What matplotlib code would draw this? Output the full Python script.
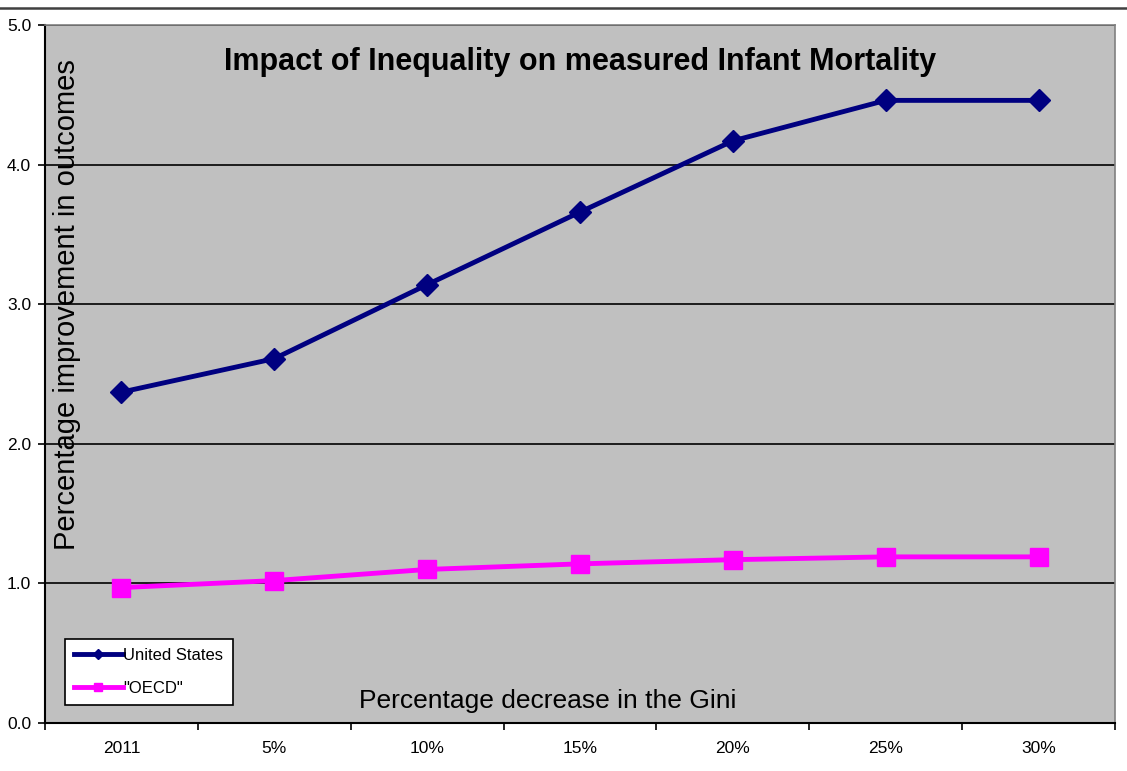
import matplotlib
matplotlib.use("Agg")
import matplotlib.pyplot as plt
from matplotlib.lines import Line2D

plt.rcParams['font.family'] = ['Liberation Sans', 'DejaVu Sans']

categories = ['2011', '5%', '10%', '15%', '20%', '25%', '30%']
us_values = [2.37, 2.61, 3.14, 3.66, 4.17, 4.46, 4.46]
oecd_values = [0.97, 1.02, 1.10, 1.14, 1.17, 1.19, 1.19]
y_ticks = [0.0, 1.0, 2.0, 3.0, 4.0, 5.0]

fig = plt.figure(figsize=(11.27, 7.71), dpi=100)
ax = fig.add_axes([45/1127, 1 - 723/771, 1070/1127, 698/771])
ax.set_facecolor('#C0C0C0')

x = list(range(len(categories)))
ax.plot(x, us_values, color='#000080', lw=3.5, marker='D', ms=11.5,
        label='United States', zorder=3)
ax.plot(x, oecd_values, color='#FF00FF', lw=3.5, marker='s', ms=13.5,
        label='"OECD"', zorder=3)

ax.set_xlim(-0.5, len(categories) - 0.5)
ax.set_ylim(0, 5)
ax.set_yticks(y_ticks)
ax.set_yticklabels(['%.1f' % v for v in y_ticks], fontsize=12.5)
ax.yaxis.grid(True, color='black', lw=1.2)
ax.set_axisbelow(True)

ax.set_xticks(x)
ax.set_xticklabels(categories, fontsize=12.5)
ax.set_xticks([i - 0.5 for i in range(len(categories) + 1)], minor=True)
ax.tick_params(axis='x', which='major', length=0, pad=13)
ax.tick_params(axis='x', which='minor', length=5, direction='out', width=1.2)
ax.tick_params(axis='y', length=5, direction='out', width=1.2, pad=5)

for s in ['top', 'right']:
    ax.spines[s].set_color('#808080')
    ax.spines[s].set_linewidth(1.2)
for s in ['left', 'bottom']:
    ax.spines[s].set_color('black')
    ax.spines[s].set_linewidth(1.5)

ax.text(0.5, 0.947, 'Impact of Inequality on measured Infant Mortality',
        transform=ax.transAxes, ha='center', va='center',
        fontsize=22, fontweight='bold')
ax.text(0.0206, 0.599, 'Percentage improvement in outcomes',
        transform=ax.transAxes, ha='center', va='center', rotation=90,
        fontsize=21)
ax.text(0.470, 0.0315, 'Percentage decrease in the Gini',
        transform=ax.transAxes, ha='center', va='center', fontsize=19)

leg = ax.legend(loc='lower left', bbox_to_anchor=(0.0187, 0.0258),
                fontsize=12, frameon=True, fancybox=False, edgecolor='black',
                framealpha=1, markerscale=0.4, handlelength=2.9,
                borderpad=0.55, labelspacing=1.05, handletextpad=0.05,
                borderaxespad=0)
leg.get_frame().set_linewidth(1.2)

# thin rule across the top of the picture
fig.add_artist(Line2D([0, 1], [1 - 8/771, 1 - 8/771], color='#404040', lw=1.8,
                      transform=fig.transFigure))

fig.savefig('out.png', dpi=100, facecolor='white')
